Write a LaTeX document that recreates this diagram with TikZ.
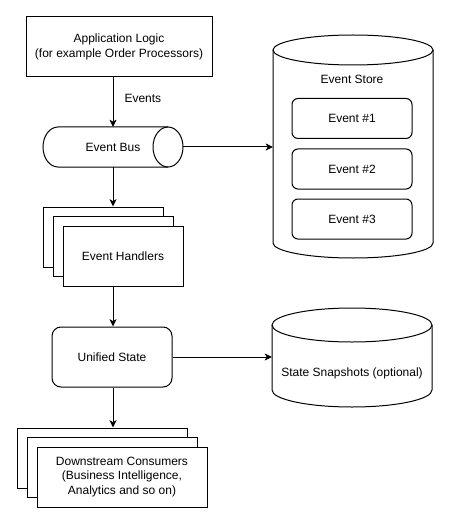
\documentclass[tikz,border=0pt]{standalone}
\usepackage{fontspec}
\setmainfont{Liberation Sans}
\usetikzlibrary{arrows.meta}

\begin{document}
\begin{tikzpicture}[x=0.75pt,y=0.75pt,yscale=-1,xscale=1,
  font=\fontsize{9}{11}\selectfont,
  line width=0.75pt,
  box/.style={draw, fill=white, align=center, inner sep=0.75pt, minimum width=90pt, minimum height=45pt},
  rbox/.style={box, rounded corners=6.75pt},
  evbox/.style={draw, rounded corners=4.5pt, minimum width=90pt, minimum height=30pt, inner sep=0.75pt},
  hold/.style={inner sep=0pt, outer sep=0pt},
  flow/.style={-{Stealth[length=5.5pt,width=5.25pt,inset=1.5pt]}}]
\useasboundingbox (0,0) rectangle (451,524);

%Shape: Rectangle [id:app]
\node [box, minimum width=139.5pt] (app) at (119,47) {Application Logic\\(for example Order Processors)};

%Shape: Can [id:bus]
\draw (168,127) -- (58,127) arc (270:90:15 and 20) -- (168,167) ;
\draw (168,147) ellipse (15 and 20) ;
\node [hold, minimum width=105pt, minimum height=30pt] (bus) at (113,147) {Event Bus};

%Shape: Document stack [id:handlers]
\node [box] (handlersC) at (103,237) {};
\node [box] (handlersB) at (113,246) {};
\node [box] (handlers) at (123,256) {Event Handlers};

%Shape: Rounded Rect [id:state]
\node [rbox] (state) at (112,357) {Unified State};

%Shape: Document stack [id:consumers]
\node [box, minimum width=127.5pt] (consumersC) at (102,458) {};
\node [box, minimum width=127.5pt] (consumersB) at (112,467) {};
\node [box, minimum width=127.5pt] (consumers) at (122,477) {Downstream Consumers\\(Business Intelligence,\\Analytics and so on)};

%Shape: Can [id:store]
\draw (273,50) -- (273,243) arc (180:0:80 and 15) -- (433,50) ;
\draw (353,50) ellipse (80 and 15) ;
\node [hold, minimum width=120pt, minimum height=167.25pt] (store) at (353,146.5) {};
% Text Node
\node [inner sep=0.75pt] (storelabel) at (352,79) {Event Store};
%Shape: Rounded Rect [id:events]
\node [evbox] (ev1) at (352,118.5) {Event \#1};
\node [evbox] (ev2) at (352,169) {Event \#2};
\node [evbox] (ev3) at (352,219) {Event \#3};

%Shape: Can [id:snap]
\draw (272,325) -- (272,390) arc (180:0:80 and 17) -- (432,325) ;
\draw (352,325) ellipse (80 and 17) ;
\node [hold, minimum width=120pt, minimum height=74.25pt] (snap) at (352,357.5) {};
% Text Node
\node [inner sep=0.75pt] (snaplabel) at (352,373) {State Snapshots (optional)};

%Connectors
\draw [flow] (bus.north |- app.south) -- (bus.north) ;
\draw [flow] (bus.south) -- (bus.south |- handlersC.north) ;
\draw [flow] (bus.east) -- (bus.east -| store.west) ;
\draw [flow] (handlers.south -| bus.south) -- (bus.south |- state.north) ;
\draw [flow] (state.east) -- (state.east -| snap.west) ;
\draw [flow] (state.south -| bus.south) -- (bus.south |- consumersC.north) ;

% Text Node
\node [anchor=west, inner sep=0.75pt] (events) at (123,98) {Events};

\end{tikzpicture}
\end{document}
